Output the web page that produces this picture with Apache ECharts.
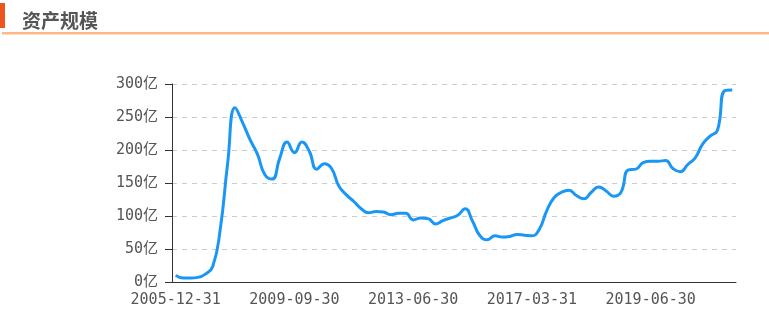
<!DOCTYPE html>
<html>
<head>
<meta charset="utf-8">
<script src="https://cdn.jsdelivr.net/npm/echarts@6/dist/echarts.min.js"></script>
<style>
html,body{margin:0;padding:0;background:#fff;}
#chart{width:769px;height:328px;}
</style>
</head>
<body>
<div id="chart"></div>
<script>
const titleText = '资产规模';
const categories = [
  '2005-12-31','2006-03-31','2006-06-30','2006-09-30','2006-12-31','2007-03-31','2007-06-30','2007-09-30',
  '2007-10-31','2007-12-31','2008-03-31','2008-06-30','2008-09-30','2008-12-31','2009-03-31','2009-06-30',
  '2009-09-30','2009-12-31','2010-03-31','2010-06-30','2010-09-30','2010-12-31','2011-03-31','2011-06-30',
  '2011-09-30','2011-12-31','2012-03-31','2012-06-30','2012-09-30','2012-12-31','2013-03-31','2013-05-31',
  '2013-06-30','2013-09-30','2013-12-31','2014-03-31','2014-06-30','2014-09-30','2014-12-31','2015-03-31',
  '2015-06-30','2015-09-30','2015-12-31','2016-03-31','2016-06-30','2016-09-30','2016-12-31','2017-01-31',
  '2017-03-31','2017-05-31','2017-06-30','2017-08-31','2017-09-30','2017-11-30','2017-12-31','2018-03-31',
  '2018-05-31','2018-06-30','2018-09-30','2018-11-30','2018-12-31','2019-02-28','2019-03-31','2019-05-31',
  '2019-06-30','2019-09-30','2019-12-31','2020-03-31','2020-06-30','2020-09-30','2020-12-31','2021-03-31',
  '2021-06-30','2021-09-30','2021-12-31','2022-03-31'
];
const assetValues = [
  10, 6, 6, 7, 12, 24, 80, 180,
  264, 242, 216, 194, 163, 156, 187, 212,
  196, 212, 198, 171, 179, 172, 145, 132,
  122, 111, 105, 107, 106, 102, 104, 104,
  94, 97, 96, 88, 93, 97, 101, 111,
  92, 70, 64, 70, 68, 69, 72, 71,
  70, 80, 108, 128, 136, 139, 131, 126,
  136, 144, 138, 130, 136, 170, 171, 181,
  183, 183, 184, 172, 167, 178, 188, 209,
  221, 230, 290, 291
];
const yTicks = [0, 50, 100, 150, 200, 250, 300];
const unit = '亿';

const chart = echarts.init(document.getElementById('chart'), null, {renderer: 'canvas'});
const labelFont = "'DejaVu Sans Mono', 'Noto Sans CJK SC', monospace";
chart.setOption({
  animation: false,
  backgroundColor: '#fff',
  title: {
    text: titleText,
    left: 17, top: 6,
    textStyle: {fontSize: 19, fontWeight: 'bold', color: '#555', fontFamily: "'Noto Sans CJK SC', sans-serif"}
  },
  graphic: [
    {type: 'rect', left: 0, top: 3, shape: {width: 5, height: 25}, style: {fill: '#ec5420'}},
    {type: 'rect', left: 2, top: 32, shape: {width: 767, height: 2.5}, style: {fill: '#ffb787'}}
  ],
  grid: {left: 172, right: 33, top: 84, bottom: 46},
  xAxis: {
    type: 'category',
    data: categories,
    boundaryGap: true,
    axisLine: {lineStyle: {color: '#333', width: 1}},
    axisTick: {interval: 15, length: 5, lineStyle: {color: '#333'}},
    axisLabel: {interval: 15, margin: 11, color: '#555', fontSize: 15, fontFamily: labelFont},
    splitLine: {show: false}
  },
  yAxis: {
    type: 'value',
    min: yTicks[0], max: yTicks[yTicks.length - 1], interval: 50,
    axisLine: {show: true, lineStyle: {color: '#333', width: 1}},
    axisTick: {show: true, length: 7, lineStyle: {color: '#333'}},
    axisLabel: {margin: 14, color: '#555', fontSize: 15, fontFamily: labelFont, formatter: '{value}' + unit},
    splitLine: {show: true, lineStyle: {type: [5, 5], color: '#ccc', width: 1}}
  },
  series: [{
    type: 'line',
    data: assetValues,
    smooth: true,
    showSymbol: false,
    symbol: 'none',
    lineStyle: {color: '#1a97f5', width: 3},
    itemStyle: {color: '#1a97f5'}
  }]
});
</script>
</body>
</html>
